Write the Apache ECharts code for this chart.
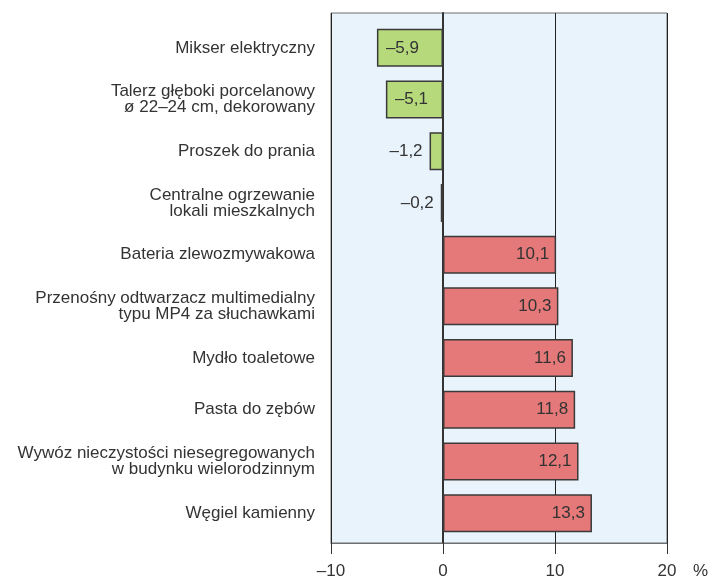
<!DOCTYPE html>
<html>
<head>
<meta charset="utf-8">
<script src="https://cdn.jsdelivr.net/npm/echarts@6/dist/echarts.min.js"></script>
<style>
  html, body { margin: 0; padding: 0; background: #fff; }
  #chart { width: 710px; height: 577px; }
</style>
</head>
<body>
<div id="chart"></div>
<script>
const categories = [
  'Mikser elektryczny',
  'Talerz głęboki porcelanowy\nø 22–24 cm, dekorowany',
  'Proszek do prania',
  'Centralne ogrzewanie\nlokali mieszkalnych',
  'Bateria zlewozmywakowa',
  'Przenośny odtwarzacz multimedialny\ntypu MP4 za słuchawkami',
  'Mydło toaletowe',
  'Pasta do zębów',
  'Wywóz nieczystości niesegregowanych\nw budynku wielorodzinnym',
  'Węgiel kamienny'
]
const values = [-5.9, -5.1, -1.2, -0.2, 10.1, 10.3, 11.6, 11.8, 12.1, 13.3]
const xTicks = [-10, 0, 10, 20]

const font = 'Liberation Sans, Arial, sans-serif'
const fmt = v => String(v).replace('.', ',').replace('-', '\u2013')

const chart = echarts.init(document.getElementById('chart'))

chart.setOption({
  animation: false,
  textStyle: { fontFamily: font },
  grid: [
    // background panel with gridlines and ticks
    { left: 331, right: 43, top: 13, bottom: 34, show: true, backgroundColor: '#e9f3fb', borderColor: '#6e6e6e', borderWidth: 1, containLabel: false, outerBoundsMode: 'none' },
    // bars
    { left: 331, right: 43, top: 22, bottom: 38, containLabel: false, outerBoundsMode: 'none' }
  ],
  xAxis: [
    {
      gridIndex: 0, type: 'value', min: xTicks[0], max: xTicks[xTicks.length - 1], interval: 10,
      axisLine: { show: true, lineStyle: { color: '#6e6e6e', width: 1 } },
      axisTick: { show: true, length: 11, lineStyle: { color: '#333', width: 1 } },
      axisLabel: { color: '#333', fontSize: 17, margin: 20, formatter: v => fmt(v) },
      splitLine: { show: true, lineStyle: { color: '#222', width: 1 } }
    },
    {
      gridIndex: 1, type: 'value', min: xTicks[0], max: xTicks[xTicks.length - 1], interval: 10,
      axisLine: { show: false }, axisTick: { show: false }, axisLabel: { show: false }, splitLine: { show: false }
    }
  ],
  yAxis: [
    {
      gridIndex: 0, type: 'value', min: 0, max: 1,
      axisLine: { show: true, onZero: true, lineStyle: { color: '#333', width: 2 } },
      axisTick: { show: false }, axisLabel: { show: false }, splitLine: { show: false }
    },
    {
      gridIndex: 1, type: 'category', inverse: true, data: categories,
      axisLine: { show: false }, axisTick: { show: false }, splitLine: { show: false },
      axisLabel: { color: '#333', fontSize: 17, lineHeight: 16, margin: 16, align: 'right', fontFamily: font }
    }
  ],
  graphic: [{
    type: 'text', right: 2, top: 563,
    style: { text: '%', fill: '#333', font: '17px ' + font }
  }],
  series: [{
    type: 'bar',
    xAxisIndex: 1,
    yAxisIndex: 1,
    barWidth: 38,
    data: values.map(v => ({
      value: v,
      itemStyle: {
        color: v < 0 ? '#b6d97c' : '#e57878',
        borderColor: '#3a3a3a',
        borderWidth: 1.5
      },
      label: {
        show: true,
        position: v < -3 ? 'insideLeft' : (v < 0 ? 'left' : 'insideRight'),
        distance: v < -3 ? 9 : 7,
        color: '#333',
        fontSize: 17,
        formatter: () => fmt(v)
      }
    }))
  }]
})
</script>
</body>
</html>
